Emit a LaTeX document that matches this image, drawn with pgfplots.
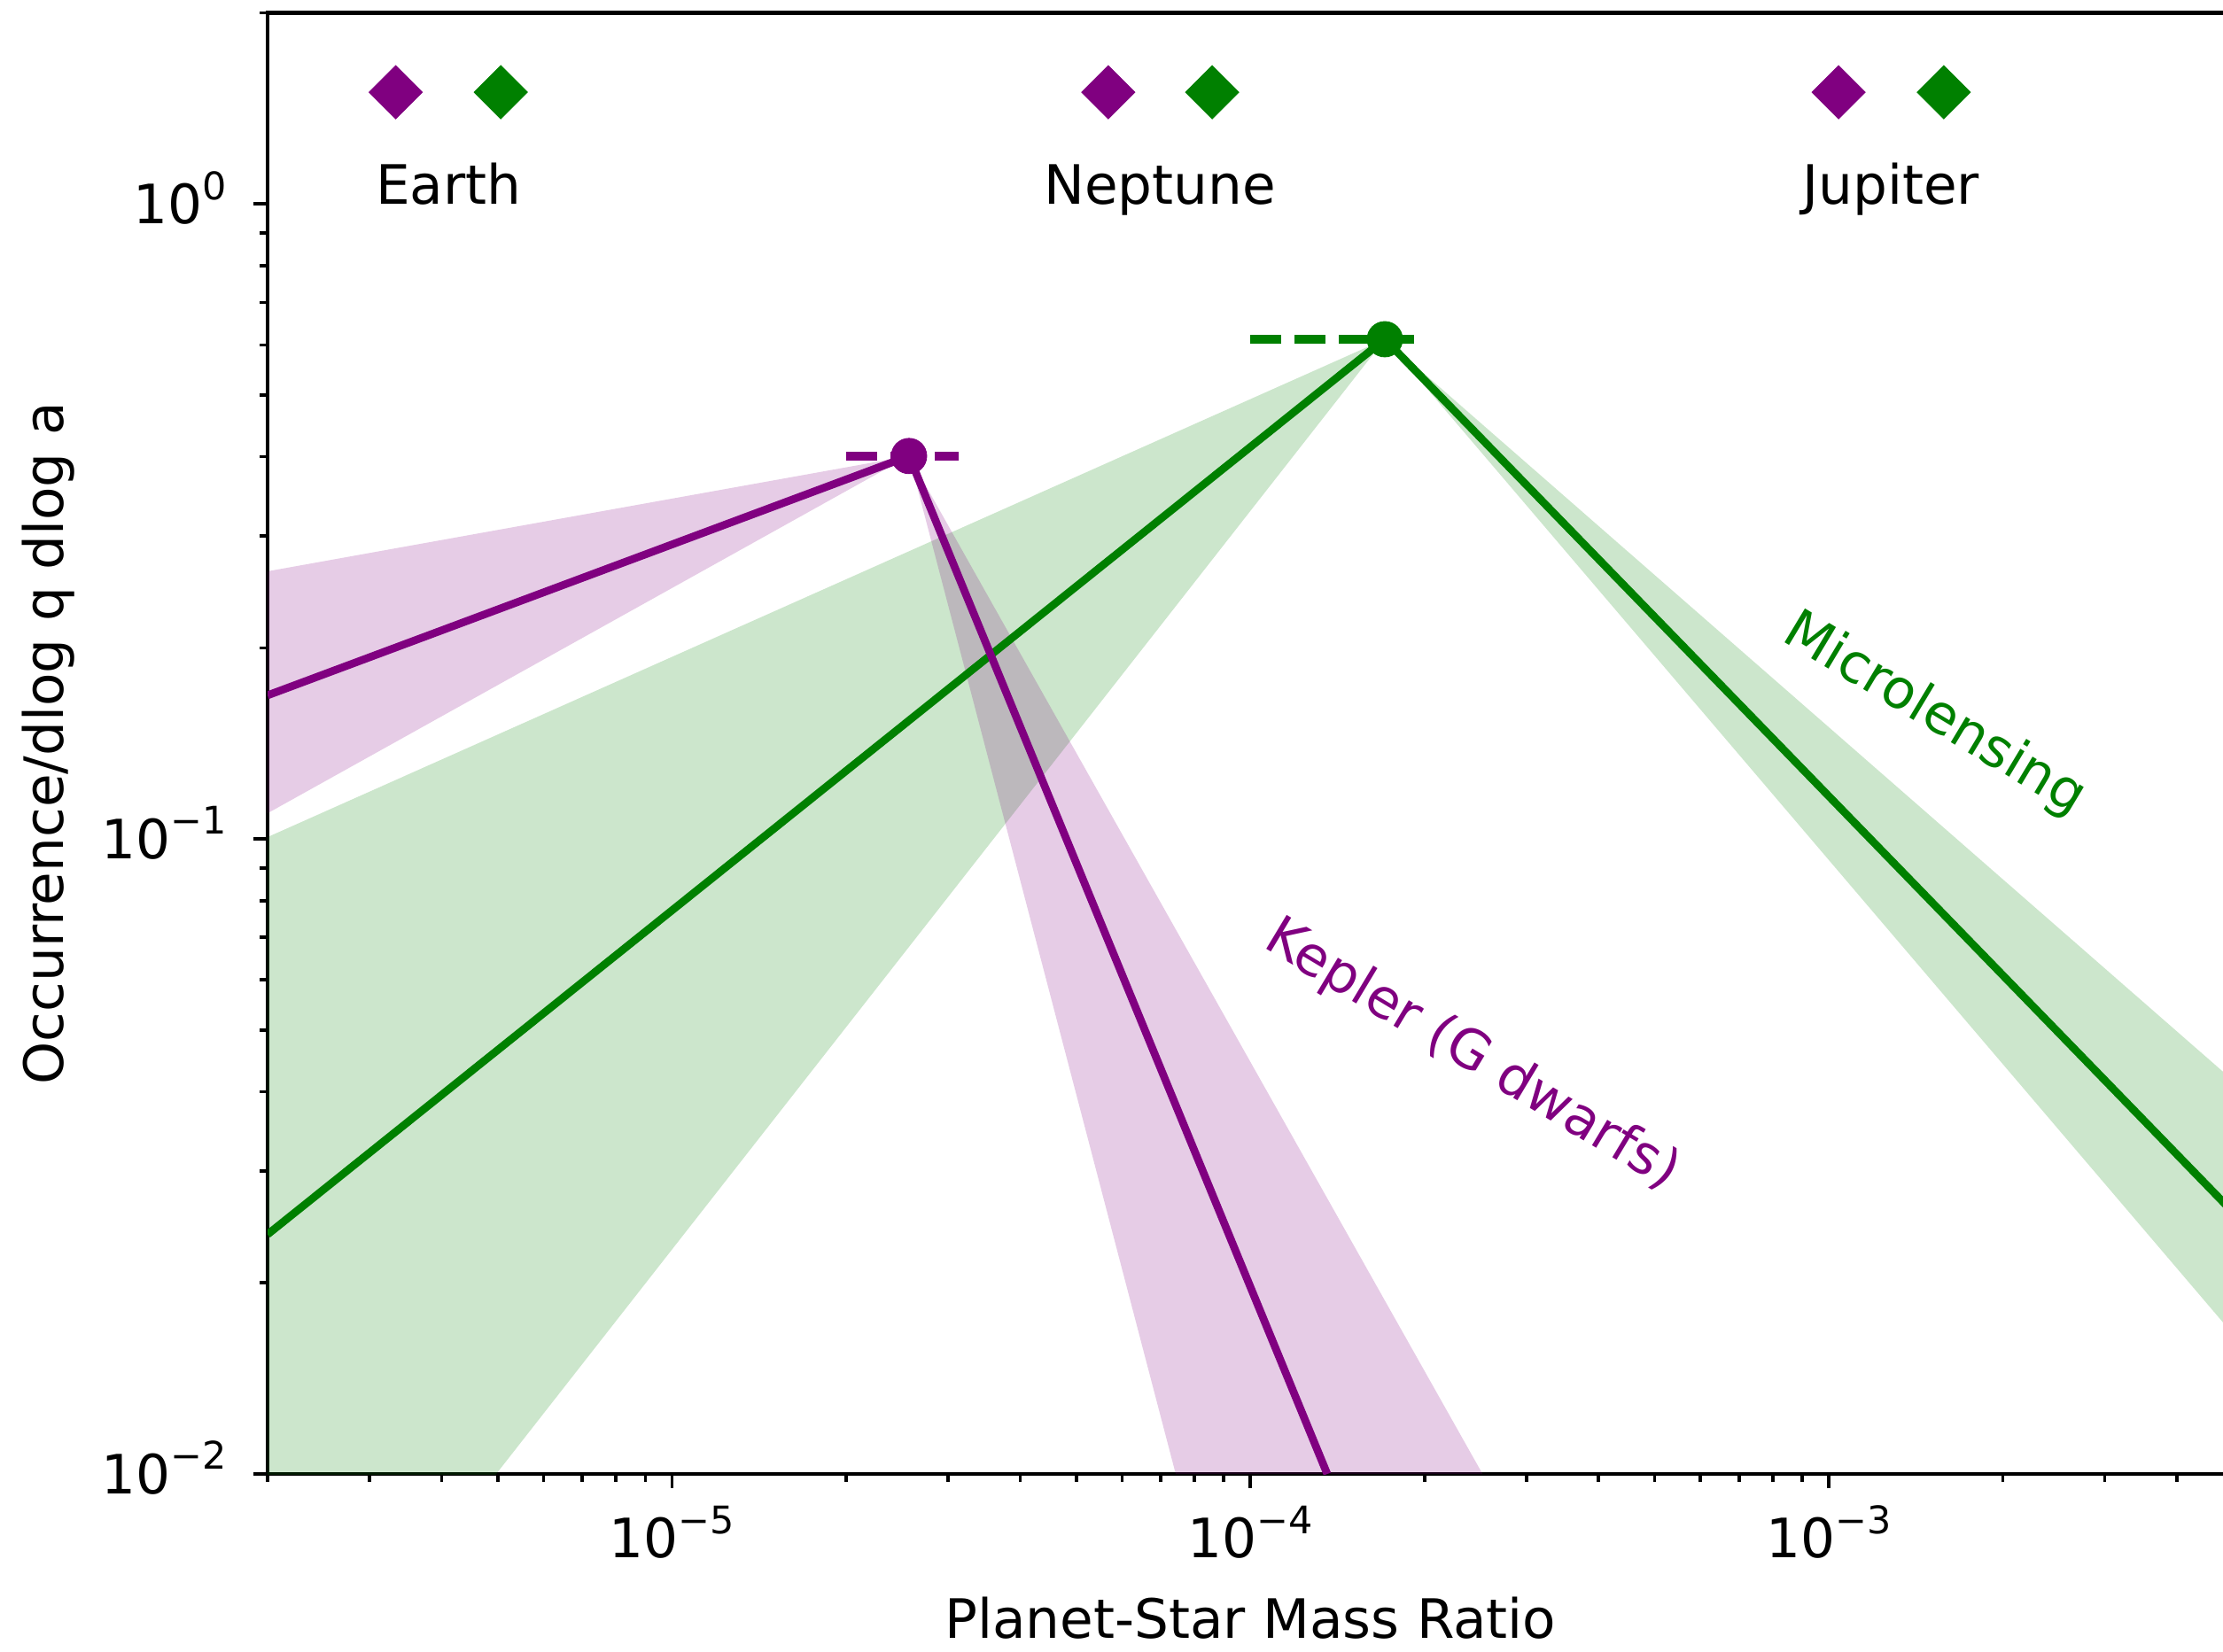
\documentclass[border=0pt]{standalone}
\usepackage{fontspec}
\setmainfont{DejaVu Sans}
\usepackage{pgfplots}
\pgfplotsset{compat=1.18}
\definecolor{mpurple}{RGB}{128,0,128}
\definecolor{mgreen}{RGB}{0,128,0}
% power-of-ten tick label set in the text font
\newcommand{\tp}[1]{10\raisebox{0.45em}{\fontsize{10.3}{12}\selectfont #1}}

\begin{document}
\fontsize{14.7}{17.6}\selectfont
\begin{tikzpicture}
\begin{axis}[
  at={(0pt,0pt)}, anchor=south west,
  scale only axis, width=532.4pt, height=395.86pt,
  xmode=log, ymode=log,
  xmin=2e-6, xmax=5e-3, ymin=0.01, ymax=2,
  clip=true,
  axis line style={line width=1pt},
  tick pos=left, tick align=outside,
  major tick length=3.8pt, minor tick length=2.2pt,
  every tick/.style={black, line width=0.9pt},
  xtick={1e-5,1e-4,1e-3},
  xticklabels={\tp{−5},\tp{−4},\tp{−3}},
  minor xtick={2e-6,3e-6,4e-6,5e-6,6e-6,7e-6,8e-6,9e-6,
               2e-5,3e-5,4e-5,5e-5,6e-5,7e-5,8e-5,9e-5,
               2e-4,3e-4,4e-4,5e-4,6e-4,7e-4,8e-4,9e-4,
               2e-3,3e-3,4e-3,5e-3},
  ytick={1e-2,1e-1,1},
  yticklabels={\tp{−2},\tp{−1},\tp{0}},
  minor ytick={0.02,0.03,0.04,0.05,0.06,0.07,0.08,0.09,
               0.2,0.3,0.4,0.5,0.6,0.7,0.8,0.9,2},
  xticklabel style={anchor=base, inner sep=0pt, yshift=-19pt},
  yticklabel style={anchor=base east, inner sep=0pt, xshift=-7.2pt, yshift=-5.36pt},
  every axis x label/.style={at={(axis description cs:0.5,-0.11267)}, anchor=base},
  every axis y label/.style={at={(axis description cs:-0.1116,0.5)}, rotate=90, anchor=center},
  xlabel={Planet-Star Mass Ratio},
  ylabel={Occurrence/dlog q dlog a},
]
% shaded uncertainty ranges
\addplot[draw=none, fill=mgreen, fill opacity=0.2]
  coordinates {(1.708e-4,0.6125) (2e-6,0.1007) (2e-6,0.00347)} -- cycle;
\addplot[draw=none, fill=mgreen, fill opacity=0.2]
  coordinates {(1.708e-4,0.6125) (5e-3,0.04165) (5e-3,0.01660)} -- cycle;
\addplot[draw=none, fill=mpurple, fill opacity=0.2]
  coordinates {(2.570e-5,0.401) (2e-6,0.264) (2e-6,0.1098)} -- cycle;
\addplot[draw=none, fill=mpurple, fill opacity=0.2]
  coordinates {(2.570e-5,0.401) (7.43e-5,0.01) (2.52e-4,0.01)} -- cycle;

% broken power laws
\addplot[mgreen, line width=2.1pt, no marks]
  coordinates {(2e-6,0.02384) (1.708e-4,0.6125) (5e-3,0.02583)};
\addplot[mpurple, line width=2.1pt, no marks]
  coordinates {(2e-6,0.1684) (2.570e-5,0.401) (1.358e-4,0.01)};

% break positions with their ranges
\addplot[mgreen, line width=2.3pt, dash pattern=on 8.4pt off 3.6pt, no marks]
  coordinates {(1.0e-4,0.6125) (1.924e-4,0.6125)};
\addplot[mpurple, line width=2.3pt, dash pattern=on 8.4pt off 3.6pt, no marks]
  coordinates {(2.0e-5,0.401) (3.13e-5,0.401)};
\addplot[mgreen, only marks, mark=*, mark size=4.8pt, mark options={solid, line width=0.2pt, draw=mgreen, fill=mgreen}]
  coordinates {(1.708e-4,0.6125)};
\addplot[mpurple, only marks, mark=*, mark size=4.8pt, mark options={solid, line width=0.2pt, draw=mpurple, fill=mpurple}]
  coordinates {(2.570e-5,0.401)};

% Solar System planets around G and M hosts
\addplot[mpurple, only marks, mark=square*, mark size=5.1pt,
  mark options={rotate=45, line width=0.2pt, draw=mpurple, fill=mpurple}]
  coordinates {(3.33e-6,1.5) (5.68e-5,1.5) (1.04e-3,1.5)};
\addplot[mgreen, only marks, mark=square*, mark size=5.1pt,
  mark options={rotate=45, line width=0.2pt, draw=mgreen, fill=mgreen}]
  coordinates {(5.06e-6,1.5) (8.59e-5,1.5) (1.58e-3,1.5)};

\node[anchor=base] at (axis cs:4.11e-6,1) {Earth};
\node[anchor=base] at (axis cs:6.98e-5,1) {Neptune};
\node[anchor=base] at (axis cs:1.281e-3,1) {Jupiter};

\node[mgreen, rotate=-31] at (axis cs:1.521e-3,0.157) {Microlensing};
\node[mpurple, rotate=-31] at (axis cs:2.415e-4,0.0456) {Kepler (G dwarfs)};
\end{axis}
\pgfresetboundingbox
\useasboundingbox (-72.5pt,-48pt) rectangle (529.66pt,399.36pt);
\end{tikzpicture}
\end{document}
